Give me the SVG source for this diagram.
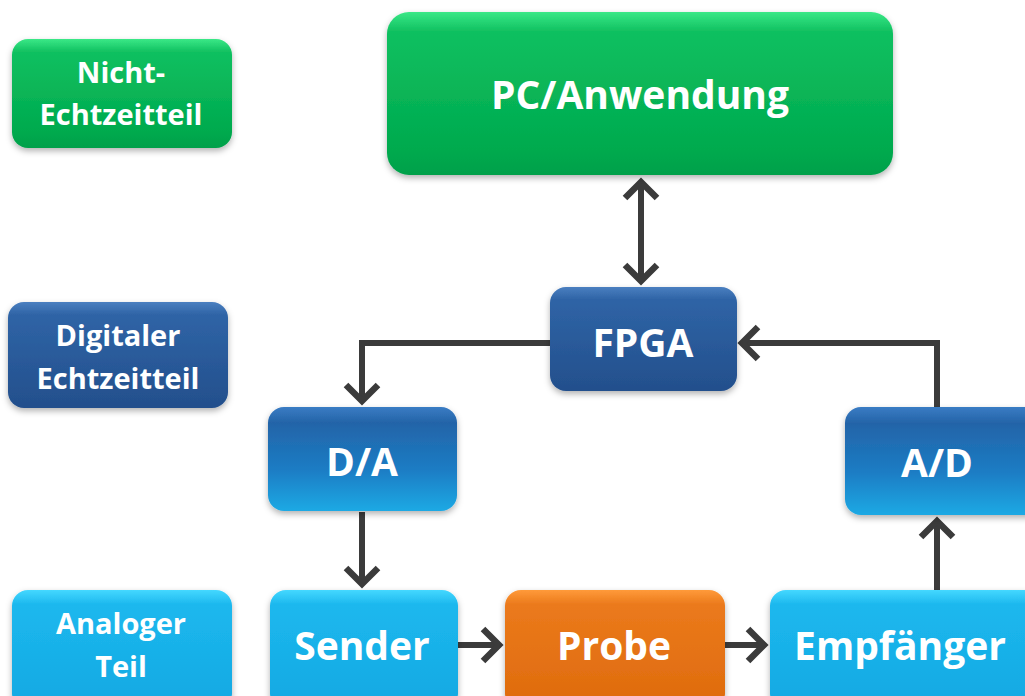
<svg xmlns="http://www.w3.org/2000/svg" width="1025" height="696" viewBox="0 0 1025 696">
<style>
.t{font-family:"Open Sans","Liberation Sans",sans-serif;font-weight:bold;fill:#ffffff;text-anchor:middle}
.big{font-size:39px}
.leg{font-size:29px}
.c{fill:none;stroke:#3b3b3b;stroke-width:6}
</style>
<defs>
<linearGradient id="gGreen" x1="0" y1="0" x2="0" y2="1">
<stop offset="0" stop-color="#3be887"/><stop offset="0.12" stop-color="#10c060"/><stop offset="0.85" stop-color="#00aa4e"/><stop offset="1" stop-color="#03a04a"/>
</linearGradient>
<linearGradient id="gDark" x1="0" y1="0" x2="0" y2="1">
<stop offset="0" stop-color="#4a7fc0"/><stop offset="0.12" stop-color="#2f64a6"/><stop offset="1" stop-color="#234f8c"/>
</linearGradient>
<linearGradient id="gMix" x1="0" y1="0" x2="0" y2="1">
<stop offset="0" stop-color="#3a7cc4"/><stop offset="0.15" stop-color="#2464a8"/><stop offset="0.6" stop-color="#1a7cc4"/><stop offset="1" stop-color="#1fa9e4"/>
</linearGradient>
<linearGradient id="gCyan" x1="0" y1="0" x2="0" y2="1">
<stop offset="0" stop-color="#45d8ff"/><stop offset="0.12" stop-color="#1cb8ee"/><stop offset="1" stop-color="#14a8e2"/>
</linearGradient>
<linearGradient id="gOrange" x1="0" y1="0" x2="0" y2="1">
<stop offset="0" stop-color="#ff9a3a"/><stop offset="0.12" stop-color="#eb7a1c"/><stop offset="1" stop-color="#de6a0c"/>
</linearGradient>
<filter id="sh" x="-10%" y="-10%" width="120%" height="130%">
<feDropShadow dx="0" dy="3" stdDeviation="3" flood-color="#000" flood-opacity="0.3"/>
</filter>
<marker id="arr" markerUnits="userSpaceOnUse" markerWidth="40" markerHeight="40" viewBox="-25 -20 40 40" refX="0" refY="0" orient="auto-start-reverse" overflow="visible">
<path d="M-16,-16 L0,0 L-16,16" fill="none" stroke="#3b3b3b" stroke-width="6.5"/>
</marker>
</defs>

<g id="connectors">
<line class="c" x1="641" y1="182" x2="641" y2="281" marker-start="url(#arr)" marker-end="url(#arr)"/>
<polyline class="c" points="550,343 362,343 362,401" marker-end="url(#arr)"/>
<polyline class="c" points="937,407 937,343 742,343" marker-end="url(#arr)"/>
<line class="c" x1="362" y1="512" x2="362" y2="584" marker-end="url(#arr)"/>
<line class="c" x1="458" y1="645" x2="499" y2="645" marker-end="url(#arr)"/>
<line class="c" x1="725" y1="645" x2="764" y2="645" marker-end="url(#arr)"/>
<line class="c" x1="937" y1="590" x2="937" y2="521" marker-end="url(#arr)"/>
</g>

<g id="legend-nicht-echtzeit">
<rect x="12" y="39" width="220" height="109" rx="16" fill="url(#gGreen)" filter="url(#sh)"/>
<text class="t leg" x="121" y="83">Nicht-</text>
<text class="t leg" x="121" y="125">Echtzeitteil</text>
</g>
<g id="legend-digital">
<rect x="8" y="302" width="220" height="106" rx="16" fill="url(#gDark)" filter="url(#sh)"/>
<text class="t leg" x="118" y="346">Digitaler</text>
<text class="t leg" x="118" y="389">Echtzeitteil</text>
</g>
<g id="legend-analog">
<rect x="12" y="590" width="220" height="120" rx="16" fill="url(#gCyan)" filter="url(#sh)"/>
<text class="t leg" x="121" y="634">Analoger</text>
<text class="t leg" x="121" y="677">Teil</text>
</g>

<g id="node-pc">
<rect x="387" y="12" width="506" height="163" rx="22" fill="url(#gGreen)" filter="url(#sh)"/>
<text class="t big" x="640" y="109">PC/Anwendung</text>
</g>
<g id="node-fpga">
<rect x="550" y="287" width="187" height="104" rx="16" fill="url(#gDark)" filter="url(#sh)"/>
<text class="t big" x="643" y="357">FPGA</text>
</g>
<g id="node-da">
<rect x="268" y="407" width="189" height="104" rx="16" fill="url(#gMix)" filter="url(#sh)"/>
<text class="t big" x="362" y="476">D/A</text>
</g>
<g id="node-ad">
<rect x="845" y="407" width="200" height="108" rx="16" fill="url(#gMix)" filter="url(#sh)"/>
<text class="t big" x="937" y="477">A/D</text>
</g>
<g id="node-sender">
<rect x="270" y="590" width="188" height="120" rx="16" fill="url(#gCyan)" filter="url(#sh)"/>
<text class="t big" x="362" y="660">Sender</text>
</g>
<g id="node-probe">
<rect x="505" y="590" width="220" height="120" rx="16" fill="url(#gOrange)" filter="url(#sh)"/>
<text class="t big" x="614" y="660">Probe</text>
</g>
<g id="node-empfaenger">
<rect x="770" y="590" width="270" height="120" rx="16" fill="url(#gCyan)" filter="url(#sh)"/>
<text class="t big" x="900" y="660">Empfänger</text>
</g>
</svg>
